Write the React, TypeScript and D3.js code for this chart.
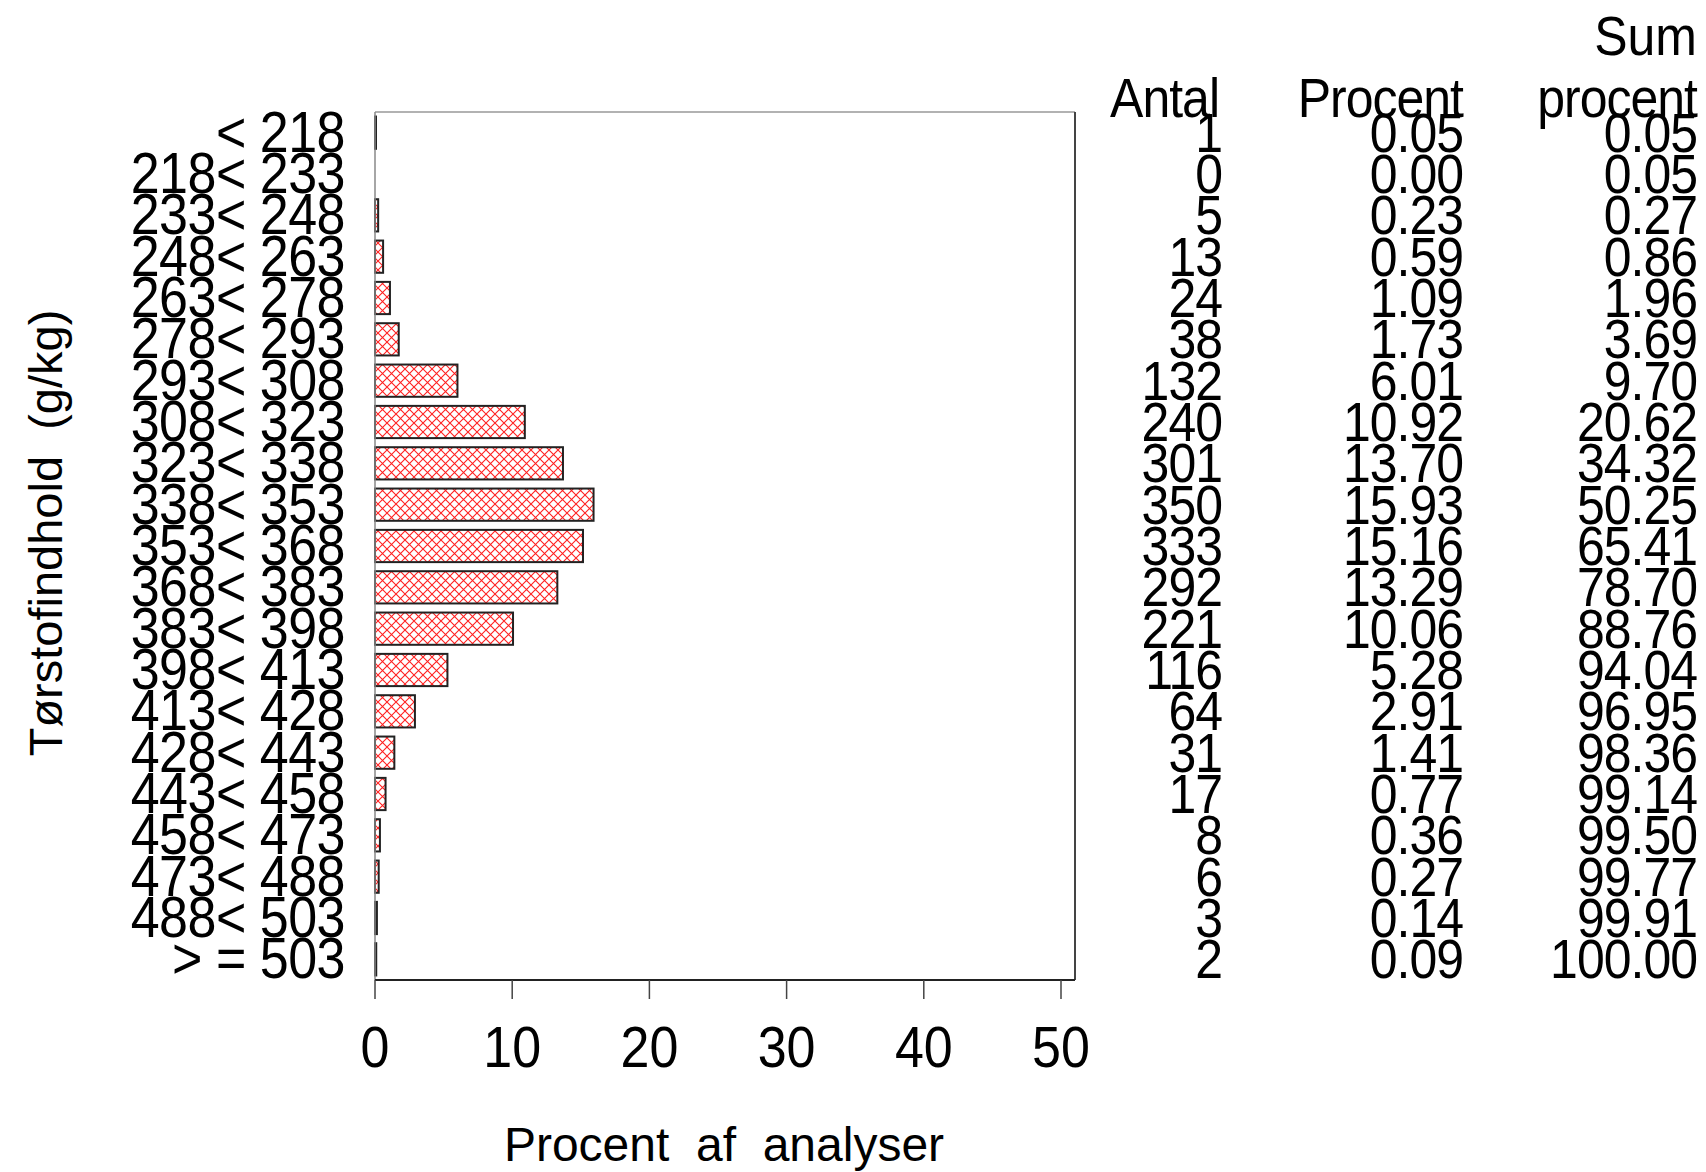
import React from "react";
import * as d3 from "d3";

const categories = [
  "< 218", "218< 233", "233< 248", "248< 263", "263< 278", "278< 293", "293< 308",
  "308< 323", "323< 338", "338< 353", "353< 368", "368< 383", "383< 398", "398< 413",
  "413< 428", "428< 443", "443< 458", "458< 473", "473< 488", "488< 503", "> = 503",
];
const antal = [1, 0, 5, 13, 24, 38, 132, 240, 301, 350, 333, 292, 221, 116, 64, 31, 17, 8, 6, 3, 2];
const procent = [0.05, 0.0, 0.23, 0.59, 1.09, 1.73, 6.01, 10.92, 13.7, 15.93, 15.16, 13.29, 10.06, 5.28, 2.91, 1.41, 0.77, 0.36, 0.27, 0.14, 0.09];
const sumProcent = [0.05, 0.05, 0.27, 0.86, 1.96, 3.69, 9.7, 20.62, 34.32, 50.25, 65.41, 78.7, 88.76, 94.04, 96.95, 98.36, 99.14, 99.5, 99.77, 99.91, 100.0];
const xTicks = [0, 10, 20, 30, 40, 50];

const FONT = "'Liberation Sans', Arial, Helvetica, sans-serif";
const SY = 1.1;

function T(props: { x: number; y: number; size: number; anchor?: string; ls?: number; children: React.ReactNode }) {
  return (
    <text
      transform={`translate(${props.x},${props.y}) scale(1,${SY})`}
      textAnchor={props.anchor || "end"}
      fontSize={props.size}
      letterSpacing={props.ls ?? 0}
      fill="#000"
    >
      {props.children}
    </text>
  );
}

export default function App() {
  const W = 1706, H = 1172;
  const left = 375, right = 1075, top = 112, bottom = 980;
  const x = d3.scaleLinear().domain([0, 50]).range([left, 1061]);
  const y = d3.scaleBand<string>().domain(categories).range([top, bottom]).paddingInner(0.22).paddingOuter(0.11);
  const center = (c: string) => (y(c) as number) + y.bandwidth() / 2;

  return (
    <svg width={W} height={H} style={{ position: "absolute", left: 0, top: 0, background: "#fff" }} fontFamily={FONT}>
      <defs>
        <pattern id="hatch" patternUnits="userSpaceOnUse" width="9" height="9">
          <rect width="9" height="9" fill="#fff" />
          <path d="M0,0 L9,9 M9,0 L0,9" stroke="#ff2020" strokeWidth="1.1" />
        </pattern>
      </defs>
      <rect x={0} y={0} width={W} height={H} fill="#fff" />
      {categories.map((c, i) =>
        procent[i] > 0 ? (
          <rect
            key={c}
            x={x(0)}
            y={y(c)}
            width={Math.max(x(procent[i]) - x(0), 1)}
            height={y.bandwidth()}
            fill="url(#hatch)"
            stroke="#222"
            strokeWidth={2}
          />
        ) : null
      )}
      <line x1={left} y1={top} x2={right} y2={top} stroke="#999" strokeWidth={1.5} />
      <line x1={right} y1={top} x2={right} y2={bottom} stroke="#444" strokeWidth={2} />
      <line x1={left} y1={top} x2={left} y2={bottom} stroke="#888" strokeWidth={1.5} />
      <line x1={left} y1={bottom} x2={right} y2={bottom} stroke="#222" strokeWidth={2} />
      {xTicks.map((t) => (
        <g key={t}>
          <line x1={x(t)} y1={bottom} x2={x(t)} y2={bottom + 19} stroke="#444" strokeWidth={1.5} />
          <T x={x(t)} y={1067} size={52} anchor="middle">{t}</T>
        </g>
      ))}
      {categories.map((c) => (
        <T key={c} x={345} y={center(c) + 19} size={52} ls={-0.5}>{c}</T>
      ))}
      <T x={1697} y={55} size={50}>Sum</T>
      <T x={1219} y={117} size={50} ls={-1}>Antal</T>
      <T x={1463} y={117} size={50} ls={-1}>Procent</T>
      <T x={1697} y={117} size={50} ls={-1}>procent</T>
      {categories.map((c, i) => (
        <g key={"t" + c}>
          <T x={1222} y={center(c) + 19} size={50} ls={-1}>{String(antal[i])}</T>
          <T x={1463} y={center(c) + 19} size={50} ls={-1}>{procent[i].toFixed(2)}</T>
          <T x={1697} y={center(c) + 19} size={50} ls={-1}>{sumProcent[i].toFixed(2)}</T>
        </g>
      ))}
      <text x={724} y={1161} textAnchor="middle" fontSize={48} xmlSpace="preserve">
        {"Procent  af  analyser"}
      </text>
      <text transform="translate(62,533) rotate(-90)" textAnchor="middle" fontSize={47} xmlSpace="preserve">
        {"Tørstofindhold  (g/kg)"}
      </text>
    </svg>
  );
}
